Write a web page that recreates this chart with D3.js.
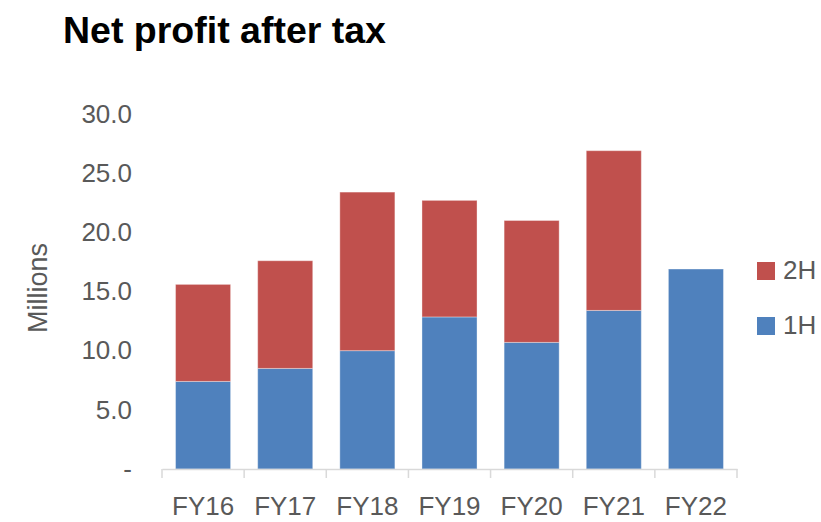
<!DOCTYPE html>
<html>
<head>
<meta charset="utf-8">
<script src="https://cdn.jsdelivr.net/npm/d3@7"></script>
<style>
  body { margin: 0; background: #fff; }
  svg { display: block; font-family: 'Liberation Sans', Arial, sans-serif; }
</style>
</head>
<body>
<div id="wrapper"></div>
<script>
/* DATA (millions) */
const categories = ['FY16', 'FY17', 'FY18', 'FY19', 'FY20', 'FY21', 'FY22'];
const firstHalf = [7.4, 8.5, 10.0, 12.85, 10.7, 13.4, 16.9];
const secondHalf = [8.2, 9.1, 13.4, 9.85, 10.3, 13.5, 0];
const yTicks = [0, 5, 10, 15, 20, 25, 30];
const seriesNames = ['1H', '2H'];
const seriesColors = ['#4F81BD', '#C0504D'];

/* CHART DIMENSIONS */
const dimensions = {
  width: 821,
  height: 522,
  margin: { top: 114, right: 84, bottom: 53, left: 162 },
};
dimensions.boundedWidth =
  dimensions.width - (dimensions.margin.left + dimensions.margin.right);
dimensions.boundedHeight =
  dimensions.height - (dimensions.margin.top + dimensions.margin.bottom);

const table = categories.map((c, i) => ({
  category: c,
  '1H': firstHalf[i],
  '2H': secondHalf[i],
}));
const stacked = d3.stack().keys(seriesNames)(table);

/* SCALES */
const xScale = d3
  .scaleBand()
  .domain(categories)
  .range([0, dimensions.boundedWidth])
  .paddingInner(0.33)
  .paddingOuter(0.165);

const yScale = d3
  .scaleLinear()
  .domain([0, 30])
  .range([dimensions.boundedHeight, 0]);

const colorScale = d3.scaleOrdinal().domain(seriesNames).range(seriesColors);

/* DRAW */
const wrapper = d3
  .select('#wrapper')
  .append('svg')
  .attr('width', dimensions.width)
  .attr('height', dimensions.height);

wrapper
  .append('text')
  .text('Net profit after tax')
  .attr('x', 63)
  .attr('y', 43)
  .attr('font-size', 37.5)
  .attr('font-weight', 'bold')
  .attr('fill', '#000');

const bounds = wrapper
  .append('g')
  .attr('transform', `translate(${dimensions.margin.left},${dimensions.margin.top})`);

bounds
  .append('g')
  .selectAll('g')
  .data(stacked)
  .join('g')
  .attr('fill', d => colorScale(d.key))
  .selectAll('rect')
  .data(d => d.filter(p => p[1] - p[0] > 0))
  .join('rect')
  .attr('x', d => xScale(d.data.category))
  .attr('width', xScale.bandwidth())
  .attr('y', d => yScale(d[1]))
  .attr('height', d => yScale(d[0]) - yScale(d[1]))
  .attr('stroke', '#fff')
  .attr('stroke-opacity', 0.35)
  .attr('stroke-width', 1);

/* PERIPHERALS */
const yAxis = bounds
  .append('g')
  .call(
    d3.axisLeft(yScale)
      .tickValues(yTicks)
      .tickSize(0)
      .tickPadding(30)
      .tickFormat(d => (d === 0 ? '-' : d3.format('.1f')(d)))
  );
yAxis.select('.domain').remove();
yAxis
  .selectAll('text')
  .attr('font-size', 26)
  .attr('font-family', "'Liberation Sans', Arial, sans-serif")
  .attr('fill', '#595959');

const xAxis = bounds
  .append('g')
  .attr('transform', `translate(0,${dimensions.boundedHeight})`)
  .call(d3.axisBottom(xScale).tickSize(0).tickPadding(28));
xAxis.select('.domain').attr('stroke', '#D9D9D9').attr('stroke-width', 1.5);
xAxis
  .selectAll('text')
  .attr('font-size', 26)
  .attr('font-family', "'Liberation Sans', Arial, sans-serif")
  .attr('fill', '#595959');

// category boundary ticks
xAxis
  .append('g')
  .selectAll('line')
  .data(d3.range(categories.length + 1))
  .join('line')
  .attr('x1', i => xScale.range()[0] + i * xScale.step())
  .attr('x2', i => xScale.range()[0] + i * xScale.step())
  .attr('y1', 0)
  .attr('y2', 9)
  .attr('stroke', '#D9D9D9')
  .attr('stroke-width', 1.5);

wrapper
  .append('text')
  .text('Millions')
  .attr('transform', 'translate(47,288) rotate(-90)')
  .attr('text-anchor', 'middle')
  .attr('font-size', 27)
  .attr('fill', '#595959');

/* LEGEND */
const legendItems = ['2H', '1H'];
const legend = wrapper
  .append('g')
  .selectAll('g')
  .data(legendItems)
  .join('g')
  .attr('transform', (d, i) => `translate(757,${262 + i * 55})`);

legend
  .append('rect')
  .attr('width', 18)
  .attr('height', 18)
  .attr('fill', d => colorScale(d));

legend
  .append('text')
  .text(d => d)
  .attr('x', 26)
  .attr('y', 17)
  .attr('font-size', 26)
  .attr('fill', '#595959');
</script>
</body>
</html>
